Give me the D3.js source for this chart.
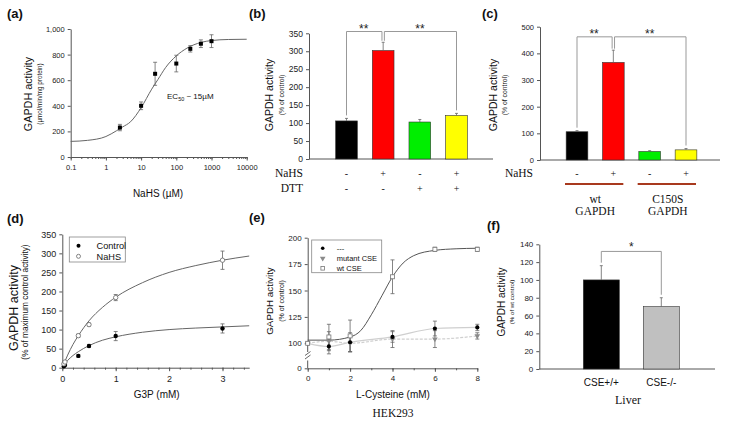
<!DOCTYPE html>
<html>
<head>
<meta charset="utf-8">
<script src="https://cdn.jsdelivr.net/npm/d3@7"></script>
<style>
  body { margin: 0; background: #fff; }
  svg { display: block; }
</style>
</head>
<body>
<div id="chart"></div>
<script>
// (a) dose response
const aDose = [2.5, 10, 25, 100, 250, 500, 1000];
const aActivity = [230, 400, 650, 730, 845, 885, 905];
const aError = [25, 30, 90, 65, 25, 30, 50];
const aFitDose = [0.1, 0.3, 1, 2, 3, 5, 10, 20, 30, 50, 100, 200, 500, 1000, 3000, 10000];
const aFitActivity = [122, 130, 160, 205, 235, 275, 385, 530, 605, 700, 790, 850, 895, 910, 918, 920];
const aXTicks = [0.1, 1, 10, 100, 1000, 10000];
const aXTickLabels = ["0.1", "1", "10", "100", "1000", "10000"];
const aYTicks = [0, 200, 400, 600, 800, 1000];

// (b) NaHS / DTT
const bNaHS = ["-", "+", "-", "+"];
const bDTT = ["-", "-", "+", "+"];
const bActivity = [106, 302, 103, 121];
const bError = [7, 23, 7, 6];
const barColors = ["#000000", "#ff0000", "#00ee00", "#ffff00"];
const bYTicks = [0, 50, 100, 150, 200, 250, 300, 350];

// (c) wt vs C150S
const cNaHS = ["-", "+", "-", "+"];
const cGroups = [["wt", "GAPDH"], ["C150S", "GAPDH"]];
const cActivity = [106, 366, 32, 38];
const cError = [4, 46, 3, 5];
const cYTicks = [0, 100, 200, 300, 400, 500];

// (d) G3P kinetics
const dConc = [0.03, 0.05, 0.3, 0.5, 1, 3];
const dControl = [4, 7, 31, 57, 83, 103];
const dControlErr = [1, 2, 3, 4, 12, 12];
const dNaHS = [10, 15, 84, 113, 184, 282];
const dNaHSErr = [2, 2, 4, 4, 8, 24];
const dFitConc = [0, 0.1, 0.2, 0.3, 0.5, 0.75, 1, 1.5, 2, 2.5, 3, 3.5];
const dControlFit = [0, 19, 32, 42, 58, 72, 81, 93, 100, 104, 107, 110];
const dNaHSFit = [0, 33, 61, 84, 123, 158, 185, 223, 250, 268, 282, 293];
const dXTicks = [0, 1, 2, 3];
const dYTicks = [0, 50, 100, 150, 200, 250, 300, 350];
const dLegend = ["Control", "NaHS"];

// (e) L-cysteine, HEK293
const eConc = [0, 1, 2, 4, 6, 8];
const eControl = [100, 97, 101, 106, 114, 115];
const eControlErr = [0, 7, 9, 5, 7, 3];
const eMutant = [100, 102, 100, 104, 104, 107];
const eMutantErr = [0, 9, 8, 8, 8, 3];
const eWt = [100, 106, 107, 163, 189, 189];
const eWtErr = [0, 12, 15, 16, 2, 2];
const eWtFitConc = [0, 1, 2, 2.5, 3, 3.5, 4, 4.5, 5, 6, 7, 8];
const eWtFit = [103, 103, 106, 112, 127, 145, 163, 176, 183, 188, 189.5, 190];
const eXTicks = [0, 2, 4, 6, 8];
const eYTicks = [100, 125, 150, 175, 200];
const eLegend = ["---", "mutant CSE", "wt CSE"];

// (f) liver
const fGroups = ["CSE+/+", "CSE-/-"];
const fActivity = [100, 70];
const fError = [16, 10];
const fColors = ["#000000", "#c0c0c0"];
const fYTicks = [0, 20, 40, 60, 80, 100, 120, 140];

const SANS = "'Liberation Sans', Arial, sans-serif";
const SERIF = "'Liberation Serif', 'Times New Roman', serif";
const AX = "#555";
const ERR = "#666";

const svg = d3.select("#chart").append("svg")
  .attr("width", 729)
  .attr("height", 423)
  .attr("font-family", SANS);

function txt(g, x, y, s, o = {}) {
  return g.append("text")
    .attr("x", x).attr("y", y)
    .attr("font-size", o.size || 10)
    .attr("font-family", o.family || SANS)
    .attr("font-weight", o.weight || null)
    .attr("text-anchor", o.anchor || "start")
    .attr("fill", o.fill || "#111")
    .text(s);
}

function vtxt(g, cx, cy, s, size) {
  return g.append("text")
    .attr("transform", `translate(${cx + size * 0.35},${cy}) rotate(-90)`)
    .attr("font-size", size)
    .attr("text-anchor", "middle")
    .attr("fill", "#111")
    .text(s);
}

function styleAxis(g, size) {
  g.attr("font-family", SANS).attr("font-size", size);
  g.select(".domain").attr("stroke", AX);
  g.selectAll(".tick line").attr("stroke", AX);
  g.selectAll(".tick text").attr("fill", "#222");
}

function errorBars(g, xs, ys, es, x, y, both = true, cap = 2) {
  xs.forEach((xv, i) => {
    if (!es[i]) return;
    const cx = x(xv);
    const top = y(ys[i] + es[i]);
    const bot = both ? y(ys[i] - es[i]) : y(ys[i]);
    g.append("line").attr("x1", cx).attr("x2", cx).attr("y1", top).attr("y2", bot)
      .attr("stroke", ERR).attr("stroke-width", 0.8);
    g.append("line").attr("x1", cx - cap).attr("x2", cx + cap).attr("y1", top).attr("y2", top)
      .attr("stroke", ERR).attr("stroke-width", 0.8);
    if (both) {
      g.append("line").attr("x1", cx - cap).attr("x2", cx + cap).attr("y1", bot).attr("y2", bot)
        .attr("stroke", ERR).attr("stroke-width", 0.8);
    }
  });
}

function bars(g, x, y, values, errs, colors, bw) {
  values.forEach((v, i) => {
    g.append("rect")
      .attr("x", x(i) - bw / 2).attr("y", y(v))
      .attr("width", bw).attr("height", y(0) - y(v))
      .attr("fill", colors[i]).attr("stroke", "#333").attr("stroke-width", 0.6);
  });
  errorBars(g, values.map((v, i) => i), values, errs, x, y, false, 1.5);
}

// significance bracket; the tall bar in the middle gets two close legs
function bracket(g, x, y, values, errs, i0, i1, level, split) {
  const top = y(level);
  const errTop = i => y(values[i] + errs[i]);
  const xa = x(i0) + (split === "right" ? 1.2 : 0);
  const xb = x(i1) - (split === "left" ? 1.2 : 0);
  const ya = split === "right" ? errTop(i0) - 1.5 : errTop(i0) - 3;
  const yb = split === "left" ? errTop(i1) - 1.5 : errTop(i1) - 3;
  g.append("path")
    .attr("d", `M${xa},${ya}V${top}H${xb}V${yb}`)
    .attr("fill", "none").attr("stroke", "#999").attr("stroke-width", 1);
  txt(g, (xa + xb) / 2 - 0.5, top + 1.5, "**", { size: 12, anchor: "middle", fill: "#222" });
}

// ---------------- (a) ----------------
{
  const g = svg.append("g");
  const x = d3.scaleLog().domain([0.1, 10000]).range([70.7, 246.7]);
  const y = d3.scaleLinear().domain([0, 1000]).range([157, 29]);

  const minor = g.append("g").attr("transform", "translate(0,157)")
    .call(d3.axisBottom(x).tickValues(x.ticks()).tickSize(2).tickFormat(""));
  minor.select(".domain").remove();
  minor.selectAll(".tick line").attr("stroke", AX);
  g.append("g").attr("transform", "translate(0,157)")
    .call(d3.axisBottom(x).tickValues(aXTicks).tickSize(3.5).tickSizeOuter(0).tickPadding(4)
      .tickFormat((d, i) => aXTickLabels[i]))
    .call(s => styleAxis(s, 7.5));
  g.append("g").attr("transform", "translate(70.7,0)")
    .call(d3.axisLeft(y).tickValues(aYTicks).tickSize(3).tickSizeOuter(0).tickPadding(3))
    .call(s => styleAxis(s, 7.5));

  g.append("path")
    .datum(d3.zip(aFitDose, aFitActivity))
    .attr("d", d3.line().x(d => x(d[0])).y(d => y(d[1])).curve(d3.curveMonotoneX))
    .attr("fill", "none").attr("stroke", "#666").attr("stroke-width", 1);
  errorBars(g, aDose, aActivity, aError, x, y, true, 2);
  g.selectAll(".pt").data(aDose).enter().append("rect")
    .attr("x", d => x(d) - 2).attr("y", (d, i) => y(aActivity[i]) - 2)
    .attr("width", 4).attr("height", 4).attr("fill", "#000");

  const ec = txt(g, 167, 99, "EC", { size: 8 });
  ec.append("tspan").attr("font-size", 5.5).attr("dy", 2).text("50");
  ec.append("tspan").attr("dy", -2).text(" ~ 15µM");

  txt(g, 7, 18, "(a)", { size: 13, weight: "bold" });
  vtxt(g, 28.3, 94, "GAPDH activity", 10.8);
  vtxt(g, 40, 94, "(µmol/min/mg protein)", 6.3);
  txt(g, 158, 197, "NaHS (µM)", { size: 10, anchor: "middle" });
}

// ---------------- (b) ----------------
{
  const g = svg.append("g");
  const x = d3.scalePoint().domain(d3.range(bActivity.length)).range([346.5, 456.5]);
  const y = d3.scaleLinear().domain([0, 350]).range([159, 33.3]);
  g.append("g").attr("transform", "translate(309,0)")
    .call(d3.axisLeft(y).tickValues(bYTicks).tickSize(3).tickSizeOuter(0).tickPadding(3))
    .call(s => styleAxis(s, 8.5));
  g.append("line").attr("x1", 309).attr("x2", 493).attr("y1", y(0)).attr("y2", y(0)).attr("stroke", AX);
  bars(g, x, y, bActivity, bError, barColors, 21.7);
  bracket(g, x, y, bActivity, bError, 0, 1, 355, "left");
  bracket(g, x, y, bActivity, bError, 1, 3, 355, "right");

  txt(g, 303, 177, "NaHS", { size: 11.5, family: SERIF, anchor: "end" });
  txt(g, 303, 192, "DTT", { size: 11.5, family: SERIF, anchor: "end" });
  bNaHS.forEach((s, i) => txt(g, x(i), 177, s, { size: 10, family: SERIF, anchor: "middle" }));
  bDTT.forEach((s, i) => txt(g, x(i), 192, s, { size: 10, family: SERIF, anchor: "middle" }));

  txt(g, 249, 18, "(b)", { size: 13, weight: "bold" });
  vtxt(g, 269, 95, "GAPDH activity", 10.5);
  vtxt(g, 281.7, 95, "(% of control)", 6.8);
}

// ---------------- (c) ----------------
{
  const g = svg.append("g");
  const x = d3.scalePoint().domain(d3.range(cActivity.length)).range([577, 686]);
  const y = d3.scaleLinear().domain([0, 500]).range([160, 26.7]);
  g.append("g").attr("transform", "translate(540,0)")
    .call(d3.axisLeft(y).tickValues(cYTicks).tickSize(3).tickSizeOuter(0).tickPadding(3))
    .call(s => styleAxis(s, 7.5));
  g.append("line").attr("x1", 540).attr("x2", 720).attr("y1", y(0)).attr("y2", y(0)).attr("stroke", AX);
  bars(g, x, y, cActivity, cError, barColors, 21.7);
  bracket(g, x, y, cActivity, cError, 0, 1, 462, "left");
  bracket(g, x, y, cActivity, cError, 1, 3, 462, "right");

  txt(g, 533, 177, "NaHS", { size: 11.5, family: SERIF, anchor: "end" });
  cNaHS.forEach((s, i) => txt(g, x(i), 177, s, { size: 10, family: SERIF, anchor: "middle" }));
  cGroups.forEach((lab, k) => {
    const xa = x(2 * k) - 12, xb = x(2 * k + 1) + 10;
    g.append("line").attr("x1", xa).attr("x2", xb).attr("y1", 184).attr("y2", 184)
      .attr("stroke", "#a8391e").attr("stroke-width", 2);
    const cx = (x(2 * k) + x(2 * k + 1)) / 2;
    txt(g, cx, 202.5, lab[0], { size: 11.5, family: SERIF, anchor: "middle" });
    txt(g, cx, 215, lab[1], { size: 11.5, family: SERIF, anchor: "middle" });
  });

  txt(g, 482, 18, "(c)", { size: 13, weight: "bold" });
  vtxt(g, 493.3, 95, "GAPDH activity", 10.5);
  vtxt(g, 504.3, 95, "(% of control)", 6.8);
}

// ---------------- (d) ----------------
{
  const g = svg.append("g");
  const x = d3.scaleLinear().domain([0, 3.5]).range([62.3, 249.2]);
  const y = d3.scaleLinear().domain([0, 350]).range([367.7, 234.3]);
  const minor = g.append("g").attr("transform", "translate(0,367.7)")
    .call(d3.axisBottom(x).tickValues(d3.range(0, 3.45, 0.2)).tickSize(2).tickFormat(""));
  minor.select(".domain").remove();
  minor.selectAll(".tick line").attr("stroke", AX);
  g.append("g").attr("transform", "translate(0,367.7)")
    .call(d3.axisBottom(x).tickValues(dXTicks).tickFormat(d3.format("d"))
      .tickSize(3.5).tickSizeOuter(0).tickPadding(4))
    .call(s => styleAxis(s, 9));
  g.append("g").attr("transform", "translate(62.3,0)")
    .call(d3.axisLeft(y).tickValues(dYTicks).tickSize(3).tickSizeOuter(0).tickPadding(3))
    .call(s => styleAxis(s, 9));

  const line = d3.line().x(d => x(d[0])).y(d => y(d[1])).curve(d3.curveMonotoneX);
  [dControlFit, dNaHSFit].forEach(fit => {
    g.append("path").datum(d3.zip(dFitConc, fit)).attr("d", line)
      .attr("fill", "none").attr("stroke", "#666").attr("stroke-width", 1);
  });
  errorBars(g, dConc, dControl, dControlErr, x, y, true, 2);
  errorBars(g, dConc, dNaHS, dNaHSErr, x, y, true, 2);
  g.selectAll(".ctl").data(dConc).enter().append("circle")
    .attr("cx", d => x(d)).attr("cy", (d, i) => y(dControl[i])).attr("r", 2.2).attr("fill", "#000");
  g.selectAll(".nahs").data(dConc).enter().append("circle")
    .attr("cx", d => x(d)).attr("cy", (d, i) => y(dNaHS[i])).attr("r", 2.2)
    .attr("fill", "#fff").attr("stroke", "#666").attr("stroke-width", 0.8);

  g.append("rect").attr("x", 69.3).attr("y", 237).attr("width", 56).attr("height", 25)
    .attr("fill", "#fff").attr("stroke", "#888").attr("stroke-width", 0.8);
  g.append("circle").attr("cx", 78.5).attr("cy", 245.7).attr("r", 2).attr("fill", "#000");
  g.append("circle").attr("cx", 78.5).attr("cy", 256.3).attr("r", 2)
    .attr("fill", "#fff").attr("stroke", "#666").attr("stroke-width", 0.8);
  dLegend.forEach((s, i) => txt(g, 96.5, 249 + i * 10.6, s, { size: 9.2 }));

  txt(g, 7, 223, "(d)", { size: 13, weight: "bold" });
  vtxt(g, 14, 308, "GAPDH activity", 12.5);
  vtxt(g, 25, 302, "(% of maximum control activity)", 8.3);
  txt(g, 156.7, 398, "G3P (mM)", { size: 10, anchor: "middle" });
}

// ---------------- (e) ----------------
{
  const g = svg.append("g");
  const x = d3.scaleLinear().domain([0, 8]).range([307.7, 477.3]);
  const y = d3.scaleLinear().domain([100, 200]).range([343.3, 237.7]);
  const yLow = d3.scaleLinear().domain([0, 100]).range([368.3, 343.3]);
  const minor = g.append("g").attr("transform", "translate(0,368.3)")
    .call(d3.axisBottom(x).tickValues(d3.range(0, 8.5, 1)).tickSize(2).tickFormat(""));
  minor.select(".domain").remove();
  minor.selectAll(".tick line").attr("stroke", AX);
  g.append("g").attr("transform", "translate(0,368.3)")
    .call(d3.axisBottom(x).tickValues(eXTicks).tickSize(3.5).tickSizeOuter(0).tickPadding(4))
    .call(s => styleAxis(s, 8));
  g.append("g").attr("transform", "translate(307.7,0)")
    .call(d3.axisLeft(y).tickValues(eYTicks).tickSize(3).tickSizeOuter(0).tickPadding(3))
    .call(s => styleAxis(s, 8));
  const low = g.append("g").attr("transform", "translate(307.7,0)")
    .call(d3.axisLeft(yLow).tickValues([0]).tickSize(3).tickSizeOuter(0).tickPadding(3))
    .call(s => styleAxis(s, 8));
  low.select(".domain").remove();
  g.append("line").attr("x1", 307.7).attr("x2", 307.7).attr("y1", 343.3).attr("y2", 352).attr("stroke", AX);
  g.append("line").attr("x1", 307.7).attr("x2", 307.7).attr("y1", 360.5).attr("y2", 368.3).attr("stroke", AX);
  [353.5, 357].forEach(yy => g.append("line")
    .attr("x1", 305).attr("x2", 310.5).attr("y1", yy + 2).attr("y2", yy - 2)
    .attr("stroke", AX).attr("stroke-width", 0.9));

  const line = d3.line().x(d => x(d[0])).y(d => y(d[1])).curve(d3.curveMonotoneX);
  g.append("path").datum(d3.zip(eConc, eMutant)).attr("d", line)
    .attr("fill", "none").attr("stroke", "#cfcfcf").attr("stroke-width", 1.2).attr("stroke-dasharray", "3,1.5");
  g.append("path").datum(d3.zip(eConc, eControl)).attr("d", line)
    .attr("fill", "none").attr("stroke", "#cfcfcf").attr("stroke-width", 1.2);
  g.append("path").datum(d3.zip(eWtFitConc, eWtFit)).attr("d", line)
    .attr("fill", "none").attr("stroke", "#555").attr("stroke-width", 1);

  errorBars(g, eConc, eMutant, eMutantErr, x, y, true, 2);
  errorBars(g, eConc, eControl, eControlErr, x, y, true, 2);
  errorBars(g, eConc, eWt, eWtErr, x, y, true, 2);

  const tri = d3.symbol().type(d3.symbolTriangle).size(14);
  g.selectAll(".mut").data(eConc).enter().append("path")
    .attr("d", tri)
    .attr("transform", (d, i) => `translate(${x(d)},${y(eMutant[i])}) rotate(180)`)
    .attr("fill", "#8a8a8a");
  g.selectAll(".ctl").data(eConc).enter().append("circle")
    .attr("cx", d => x(d)).attr("cy", (d, i) => y(eControl[i])).attr("r", 2.1).attr("fill", "#000");
  g.selectAll(".wt").data(eConc).enter().append("rect")
    .attr("x", d => x(d) - 2).attr("y", (d, i) => y(eWt[i]) - 2)
    .attr("width", 4).attr("height", 4)
    .attr("fill", "#fff").attr("stroke", "#777").attr("stroke-width", 0.8);

  g.append("rect").attr("x", 311.7).attr("y", 240).attr("width", 70).attr("height", 32.7)
    .attr("fill", "#fff").attr("stroke", "#888").attr("stroke-width", 0.8);
  g.append("circle").attr("cx", 322.7).attr("cy", 248.3).attr("r", 1.8).attr("fill", "#000");
  g.append("path").attr("d", tri).attr("transform", "translate(322.7,258.3) rotate(180)").attr("fill", "#8a8a8a");
  g.append("rect").attr("x", 320.9).attr("y", 266.5).attr("width", 3.6).attr("height", 3.6)
    .attr("fill", "#fff").attr("stroke", "#777").attr("stroke-width", 0.8);
  eLegend.forEach((s, i) => txt(g, 336.7, 251 + i * 10, s, { size: 7.5 }));

  txt(g, 249, 222, "(e)", { size: 13, weight: "bold" });
  vtxt(g, 270, 301, "GAPDH activity", 9.8);
  vtxt(g, 281.7, 301, "(% of control)", 7);
  txt(g, 393, 398, "L-Cysteine (mM)", { size: 10, anchor: "middle" });
  txt(g, 393, 417, "HEK293", { size: 11.5, family: SERIF, anchor: "middle" });
}

// ---------------- (f) ----------------
{
  const g = svg.append("g");
  const x = d3.scalePoint().domain(d3.range(fActivity.length)).range([601.3, 661.3]);
  const y = d3.scaleLinear().domain([0, 140]).range([369, 244.3]);
  g.append("g").attr("transform", "translate(539.3,0)")
    .call(d3.axisLeft(y).tickValues(fYTicks).tickSize(3).tickSizeOuter(0).tickPadding(3))
    .call(s => styleAxis(s, 8));
  g.append("line").attr("x1", 539.3).attr("x2", 715).attr("y1", y(0)).attr("y2", y(0)).attr("stroke", AX);
  bars(g, x, y, fActivity, fError, fColors, 36);

  const top = y(132);
  g.append("path")
    .attr("d", `M${x(0)},${y(fActivity[0] + fError[0]) - 3}V${top}H${x(1)}V${y(fActivity[1] + fError[1]) - 3}`)
    .attr("fill", "none").attr("stroke", "#999").attr("stroke-width", 1);
  txt(g, (x(0) + x(1)) / 2, top - 0.5, "*", { size: 12, anchor: "middle", fill: "#222" });

  fGroups.forEach((s, i) => txt(g, x(i), 386, s, { size: 10, anchor: "middle" }));
  txt(g, 628, 404, "Liver", { size: 12, family: SERIF, anchor: "middle" });

  txt(g, 487, 230, "(f)", { size: 13, weight: "bold" });
  vtxt(g, 501.7, 302, "GAPDH activity", 10);
  vtxt(g, 512.3, 302, "(% of wt control)", 6.2);
}
</script>
</body>
</html>
